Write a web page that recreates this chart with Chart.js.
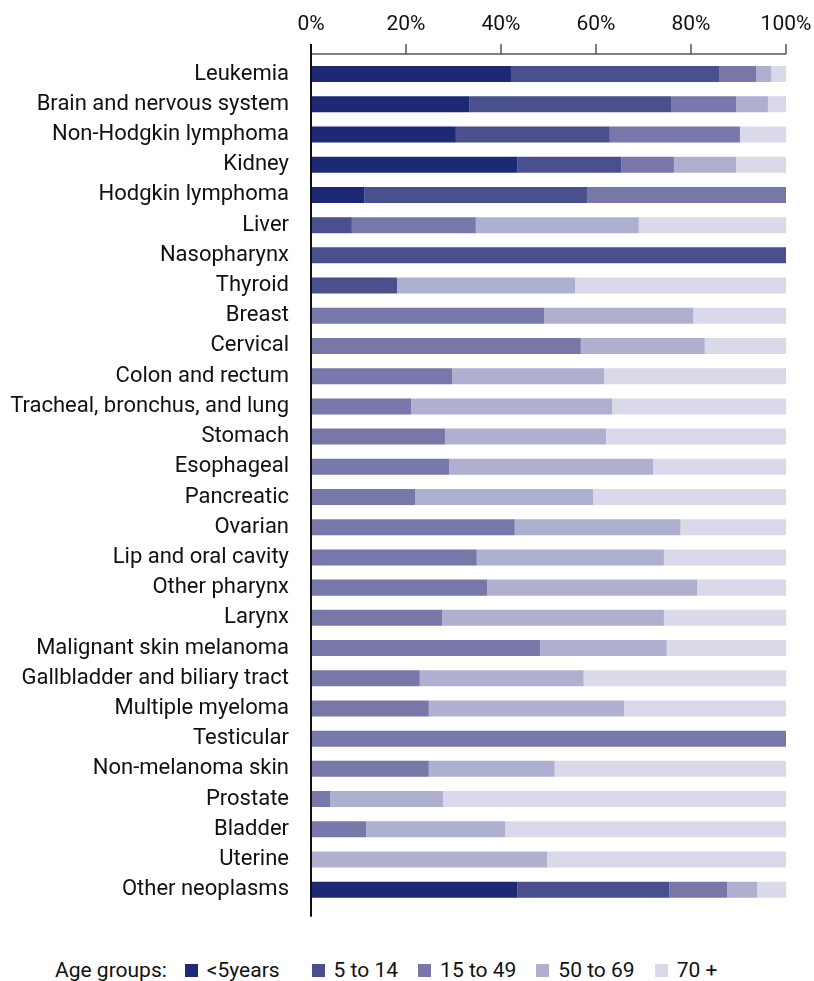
<!DOCTYPE html>
<html>
<head>
<meta charset="utf-8">
<script src="https://cdn.jsdelivr.net/npm/chart.js@4.4.1/dist/chart.umd.min.js"></script>
<style>
  body { margin: 0; background: #fff; font-family: Roboto, sans-serif; }
  #wrap { position: relative; width: 814px; height: 940px; }
  #legend { display: flex; align-items: center; height: 41px; padding-top: 19px; padding-left: 55px; font-size: 21px; color: #111; box-sizing: border-box; }
  #legend .title { margin-right: 18px; }
  #legend .item { display: flex; align-items: center; margin-right: 20px; }
  #legend .item:nth-child(2) { margin-right: 32px; }
  #legend .box { width: 13px; height: 13px; margin-right: 9px; }
</style>
</head>
<body>
<div id="wrap"><canvas id="chart"></canvas></div>
<div id="legend"></div>
<script>
const cancers = ["Leukemia", "Brain and nervous system", "Non-Hodgkin lymphoma", "Kidney", "Hodgkin lymphoma", "Liver", "Nasopharynx", "Thyroid", "Breast", "Cervical", "Colon and rectum", "Tracheal, bronchus, and lung", "Stomach", "Esophageal", "Pancreatic", "Ovarian", "Lip and oral cavity", "Other pharynx", "Larynx", "Malignant skin melanoma", "Gallbladder and biliary tract", "Multiple myeloma", "Testicular", "Non-melanoma skin", "Prostate", "Bladder", "Uterine", "Other neoplasms"]

const ageGroups = ["<5years", "5 to 14", "15 to 49", "50 to 69", "70 +"]
const colores = ["#1e2975", "#4a4f8d", "#7877aa", "#afb0cf", "#dad9e9"]

const under5 = [42.1, 33.3, 30.5, 43.4, 11.2, 0, 0, 0, 0, 0, 0, 0, 0, 0, 0, 0, 0, 0, 0, 0, 0, 0, 0, 0, 0, 0, 0, 43.4]
const age5to14 = [43.8, 42.5, 32.4, 21.9, 46.9, 8.6, 100, 18.1, 0, 0, 0, 0, 0, 0, 0, 0, 0, 0, 0, 0, 0, 0, 0, 0, 0, 0, 0, 32.0]
const age15to49 = [7.8, 13.7, 27.4, 11.1, 41.9, 26.1, 0, 0, 49.1, 56.8, 29.7, 21.1, 28.2, 29.1, 21.9, 42.9, 34.9, 37.1, 27.6, 48.2, 22.9, 24.8, 100, 24.8, 4.0, 11.6, 0, 12.2]
const age50to69 = [3.2, 6.7, 0, 13.1, 0, 34.3, 0, 37.5, 31.4, 26.1, 32.0, 42.3, 33.9, 42.9, 37.5, 34.9, 39.4, 44.2, 46.7, 26.7, 34.5, 41.1, 0, 26.5, 23.8, 29.3, 49.7, 6.3]
const age70plus = [3.1, 3.8, 9.7, 10.5, 0, 31.0, 0, 44.4, 19.5, 17.1, 38.3, 36.6, 37.9, 28.0, 40.6, 22.2, 25.7, 18.7, 25.7, 25.1, 42.6, 34.1, 0, 48.7, 72.2, 59.1, 50.3, 6.1]

const xTicks = [0, 20, 40, 60, 80, 100]

const series = [under5, age5to14, age15to49, age50to69, age70plus]

// axis lines: top axis stops at 100% with ticks pointing up, left axis runs past the bars
const axisLines = {
    id: "axisLines",
    afterDraw(chart) {
        const {ctx, chartArea, scales: {x}} = chart
        const x0 = x.getPixelForValue(0)
        const x1 = x.getPixelForValue(100)
        const yLine = chartArea.top - 5
        ctx.save()
        ctx.strokeStyle = "#555"
        ctx.lineWidth = 1.5
        ctx.beginPath()
        ctx.moveTo(x0, yLine)
        ctx.lineTo(x1, yLine)
        xTicks.forEach(v => {
            const px = x.getPixelForValue(v)
            ctx.moveTo(px, yLine)
            ctx.lineTo(px, yLine - 10)
        })
        ctx.stroke()
        ctx.strokeStyle = "#111"
        ctx.lineWidth = 2
        ctx.beginPath()
        ctx.moveTo(x0, yLine - 10)
        ctx.lineTo(x0, chartArea.bottom + 12)
        ctx.stroke()
        ctx.restore()
    }
}

new Chart(document.getElementById("chart"), {
    type: "bar",
    data: {
        labels: cancers,
        datasets: series.map((vals, i) => ({
            label: ageGroups[i],
            data: vals,
            backgroundColor: colores[i],
            borderWidth: 0,
            barPercentage: 0.53,
            categoryPercentage: 1
        }))
    },
    options: {
        indexAxis: "y",
        responsive: true,
        maintainAspectRatio: false,
        animation: false,
        layout: {padding: {top: 0, right: 28, bottom: 32, left: 0}},
        plugins: {legend: {display: false}, tooltip: {enabled: false}},
        scales: {
            x: {
                position: "top",
                stacked: true,
                min: 0,
                max: 100,
                afterBuildTicks: s => { s.ticks = xTicks.map(v => ({value: v})) },
                afterFit: s => {
                    s.height = 59
                    s.paddingLeft = 0
                    s.paddingRight = 0
                },
                grid: {display: false, drawTicks: false},
                border: {display: false},
                ticks: {padding: 22, font: {family: "Roboto", size: 21}, color: "#111", callback: v => v + "%"}
            },
            y: {
                stacked: true,
                afterFit: s => { s.width = 311 },
                grid: {display: false, drawTicks: false},
                border: {display: false},
                ticks: {padding: 22, font: {family: "Roboto", size: 22}, color: "#111", autoSkip: false}
            }
        }
    },
    plugins: [axisLines]
})

const legend = document.getElementById("legend")
legend.innerHTML = `<span class="title">Age groups:</span>` + ageGroups.map((g, i) => `
    <span class="item"><span class="box" style="background:${colores[i]}"></span>${g}</span>
`).join("")
</script>
</body>
</html>
